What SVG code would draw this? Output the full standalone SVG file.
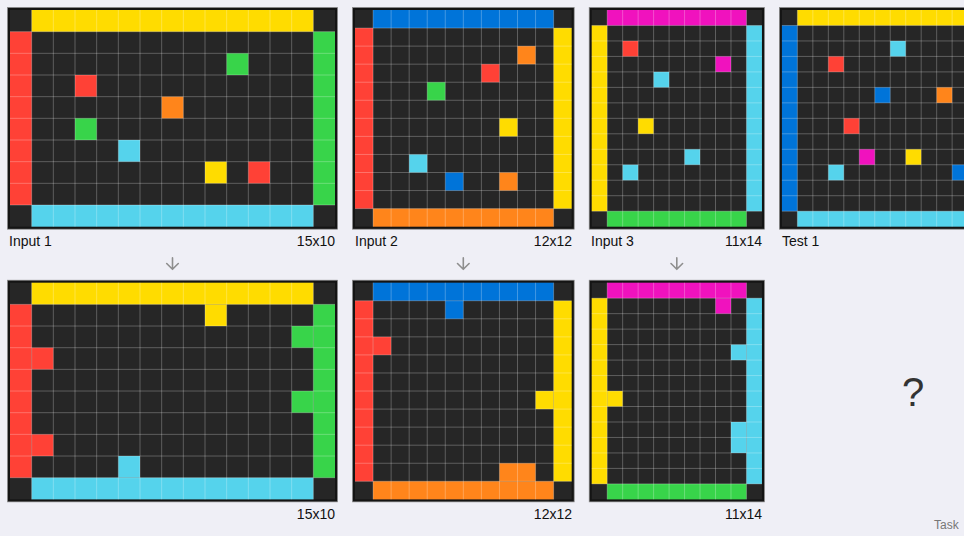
<svg xmlns="http://www.w3.org/2000/svg" xmlns:xlink="http://www.w3.org/1999/xlink" width="964" height="536" viewBox="0 0 964 536">
<style>
.bg{fill:#efeff6}
.frame{fill:#141414;stroke:#8a8a8a;stroke-width:0.7}
.k{fill:#262626}
.y{fill:#FFDC00}
.r{fill:#FF4136}
.g{fill:#38D44A}
.c{fill:#55D3EC}
.b{fill:#0074D9}
.o{fill:#FF851B}
.m{fill:#F012BE}
.gl{fill:none;stroke:#ffffff;stroke-opacity:0.26;stroke-width:1}
.lbl{font-family:"Liberation Sans",Arial,sans-serif;font-size:14px;fill:#111}
.dim{font-family:"Liberation Sans",Arial,sans-serif;font-size:14px;fill:#111;text-anchor:end}
.arr{fill:none;stroke:#8e8e8e;stroke-width:1.6;stroke-linecap:round;stroke-linejoin:round}
.q{font-family:"Liberation Sans",Arial,sans-serif;font-size:40px;fill:#333;text-anchor:middle}
.task{font-family:"Liberation Sans",Arial,sans-serif;font-size:12px;fill:#777}
</style>
<defs>
<path id="lines1" class="gl" d="M31.67 10V226.67M53.33 10V226.67M75 10V226.67M96.67 10V226.67M118.33 10V226.67M140 10V226.67M161.67 10V226.67M183.33 10V226.67M205 10V226.67M226.67 10V226.67M248.33 10V226.67M270 10V226.67M291.67 10V226.67M313.33 10V226.67M10 31.67H335M10 53.33H335M10 75H335M10 96.67H335M10 118.33H335M10 140H335M10 161.67H335M10 183.33H335M10 205H335"/>
<path id="lines2" class="gl" d="M373.06 10V226.67M391.11 10V226.67M409.17 10V226.67M427.22 10V226.67M445.28 10V226.67M463.33 10V226.67M481.39 10V226.67M499.44 10V226.67M517.5 10V226.67M535.56 10V226.67M553.61 10V226.67M355 28.06H571.67M355 46.11H571.67M355 64.17H571.67M355 82.22H571.67M355 100.28H571.67M355 118.33H571.67M355 136.39H571.67M355 154.44H571.67M355 172.5H571.67M355 190.56H571.67M355 208.61H571.67"/>
<path id="lines3" class="gl" d="M607.18 10V226.67M622.65 10V226.67M638.13 10V226.67M653.6 10V226.67M669.08 10V226.67M684.56 10V226.67M700.03 10V226.67M715.51 10V226.67M730.98 10V226.67M746.46 10V226.67M591.7 25.48H761.94M591.7 40.95H761.94M591.7 56.43H761.94M591.7 71.9H761.94M591.7 87.38H761.94M591.7 102.86H761.94M591.7 118.33H761.94M591.7 133.81H761.94M591.7 149.29H761.94M591.7 164.76H761.94M591.7 180.24H761.94M591.7 195.71H761.94M591.7 211.19H761.94"/>
<path id="arrow" class="arr" d="M0 -5.6V5.6M-5.8 0L0 5.8L5.8 0"/>
</defs>
<rect class="bg" x="0" y="0" width="964" height="536"/>

<g id="input1">
<rect class="frame" x="7.5" y="7.5" width="330" height="221.67"/>
<rect class="k" x="10" y="10" width="325" height="216.67"/>
<rect class="y" x="31.67" y="10" width="281.67" height="21.67"/>
<rect class="c" x="31.67" y="205" width="281.67" height="21.67"/>
<rect class="r" x="10" y="31.67" width="21.67" height="173.33"/>
<rect class="g" x="313.33" y="31.67" width="21.67" height="173.33"/>
<rect class="g" x="226.67" y="53.33" width="21.67" height="21.67"/>
<rect class="r" x="75" y="75" width="21.67" height="21.67"/>
<rect class="o" x="161.67" y="96.67" width="21.67" height="21.67"/>
<rect class="g" x="75" y="118.33" width="21.67" height="21.67"/>
<rect class="c" x="118.33" y="140" width="21.67" height="21.67"/>
<rect class="y" x="205" y="161.67" width="21.67" height="21.67"/>
<rect class="r" x="248.33" y="161.67" width="21.67" height="21.67"/>
<use xlink:href="#lines1"/>
<text class="lbl" x="9" y="246">Input 1</text>
<text class="dim" x="335" y="246">15x10</text>
</g>

<g id="input2">
<rect class="frame" x="352.5" y="7.5" width="221.67" height="221.67"/>
<rect class="k" x="355" y="10" width="216.67" height="216.67"/>
<rect class="b" x="373.06" y="10" width="180.56" height="18.06"/>
<rect class="o" x="373.06" y="208.61" width="180.56" height="18.06"/>
<rect class="r" x="355" y="28.06" width="18.06" height="180.56"/>
<rect class="y" x="553.61" y="28.06" width="18.06" height="180.56"/>
<rect class="o" x="517.5" y="46.11" width="18.06" height="18.06"/>
<rect class="r" x="481.39" y="64.17" width="18.06" height="18.06"/>
<rect class="g" x="427.22" y="82.22" width="18.06" height="18.06"/>
<rect class="y" x="499.44" y="118.33" width="18.06" height="18.06"/>
<rect class="c" x="409.17" y="154.44" width="18.06" height="18.06"/>
<rect class="b" x="445.28" y="172.5" width="18.06" height="18.06"/>
<rect class="o" x="499.44" y="172.5" width="18.06" height="18.06"/>
<use xlink:href="#lines2"/>
<text class="lbl" x="355" y="246">Input 2</text>
<text class="dim" x="572" y="246">12x12</text>
</g>

<g id="input3">
<rect class="frame" x="589.2" y="7.5" width="175.24" height="221.67"/>
<rect class="k" x="591.7" y="10" width="170.24" height="216.67"/>
<rect class="m" x="607.18" y="10" width="139.28" height="15.48"/>
<rect class="g" x="607.18" y="211.19" width="139.28" height="15.48"/>
<rect class="y" x="591.7" y="25.48" width="15.48" height="185.71"/>
<rect class="c" x="746.46" y="25.48" width="15.48" height="185.71"/>
<rect class="r" x="622.65" y="40.95" width="15.48" height="15.48"/>
<rect class="m" x="715.51" y="56.43" width="15.48" height="15.48"/>
<rect class="c" x="653.6" y="71.9" width="15.48" height="15.48"/>
<rect class="y" x="638.13" y="118.33" width="15.48" height="15.48"/>
<rect class="c" x="684.56" y="149.29" width="15.48" height="15.48"/>
<rect class="c" x="622.65" y="164.76" width="15.48" height="15.48"/>
<use xlink:href="#lines3"/>
<text class="lbl" x="591" y="246">Input 3</text>
<text class="dim" x="762" y="246">11x14</text>
</g>

<g id="test1">
<rect class="frame" x="779.4" y="7.5" width="221.66" height="221.67"/>
<rect class="k" x="781.9" y="10" width="216.66" height="216.67"/>
<rect class="y" x="797.38" y="10" width="185.71" height="15.48"/>
<rect class="c" x="797.38" y="211.19" width="185.71" height="15.48"/>
<rect class="b" x="781.9" y="25.48" width="15.48" height="185.71"/>
<rect class="c" x="890.23" y="40.95" width="15.48" height="15.48"/>
<rect class="r" x="828.33" y="56.43" width="15.48" height="15.48"/>
<rect class="b" x="874.76" y="87.38" width="15.48" height="15.48"/>
<rect class="o" x="936.66" y="87.38" width="15.48" height="15.48"/>
<rect class="r" x="843.8" y="118.33" width="15.48" height="15.48"/>
<rect class="m" x="859.28" y="149.29" width="15.48" height="15.48"/>
<rect class="y" x="905.71" y="149.29" width="15.48" height="15.48"/>
<rect class="c" x="828.33" y="164.76" width="15.48" height="15.48"/>
<rect class="b" x="952.14" y="164.76" width="15.48" height="15.48"/>
<path class="gl" d="M797.38 10V226.67M812.85 10V226.67M828.33 10V226.67M843.8 10V226.67M859.28 10V226.67M874.76 10V226.67M890.23 10V226.67M905.71 10V226.67M921.18 10V226.67M936.66 10V226.67M952.14 10V226.67M967.61 10V226.67M983.09 10V226.67M781.9 25.48H998.56M781.9 40.95H998.56M781.9 56.43H998.56M781.9 71.9H998.56M781.9 87.38H998.56M781.9 102.86H998.56M781.9 118.33H998.56M781.9 133.81H998.56M781.9 149.29H998.56M781.9 164.76H998.56M781.9 180.24H998.56M781.9 195.71H998.56M781.9 211.19H998.56"/>
<text class="lbl" x="782" y="246">Test 1</text>
</g>

<g id="output1">
<rect class="frame" x="7.5" y="280.2" width="330" height="221.67"/>
<rect class="k" x="10" y="282.7" width="325" height="216.67"/>
<rect class="y" x="31.67" y="282.7" width="281.67" height="21.67"/>
<rect class="c" x="31.67" y="477.7" width="281.67" height="21.67"/>
<rect class="r" x="10" y="304.37" width="21.67" height="173.33"/>
<rect class="g" x="313.33" y="304.37" width="21.67" height="173.33"/>
<rect class="y" x="205" y="304.37" width="21.67" height="21.67"/>
<rect class="g" x="291.67" y="326.03" width="21.67" height="21.67"/>
<rect class="r" x="31.67" y="347.7" width="21.67" height="21.67"/>
<rect class="g" x="291.67" y="391.03" width="21.67" height="21.67"/>
<rect class="r" x="31.67" y="434.37" width="21.67" height="21.67"/>
<rect class="c" x="118.33" y="456.03" width="21.67" height="21.67"/>
<use xlink:href="#lines1" y="272.7"/>
<text class="dim" x="335" y="518.5">15x10</text>
</g>

<g id="output2">
<rect class="frame" x="352.5" y="280.2" width="221.67" height="221.67"/>
<rect class="k" x="355" y="282.7" width="216.67" height="216.67"/>
<rect class="b" x="373.06" y="282.7" width="180.56" height="18.06"/>
<rect class="o" x="373.06" y="481.31" width="180.56" height="18.06"/>
<rect class="r" x="355" y="300.76" width="18.06" height="180.56"/>
<rect class="y" x="553.61" y="300.76" width="18.06" height="180.56"/>
<rect class="b" x="445.28" y="300.76" width="18.06" height="18.06"/>
<rect class="r" x="373.06" y="336.87" width="18.06" height="18.06"/>
<rect class="y" x="535.56" y="391.03" width="18.06" height="18.06"/>
<rect class="o" x="499.44" y="463.26" width="36.11" height="18.06"/>
<use xlink:href="#lines2" y="272.7"/>
<text class="dim" x="572" y="518.5">12x12</text>
</g>

<g id="output3">
<rect class="frame" x="589.2" y="280.2" width="175.24" height="221.67"/>
<rect class="k" x="591.7" y="282.7" width="170.24" height="216.67"/>
<rect class="m" x="607.18" y="282.7" width="139.28" height="15.48"/>
<rect class="g" x="607.18" y="483.89" width="139.28" height="15.48"/>
<rect class="y" x="591.7" y="298.18" width="15.48" height="185.71"/>
<rect class="c" x="746.46" y="298.18" width="15.48" height="185.71"/>
<rect class="m" x="715.51" y="298.18" width="15.48" height="15.48"/>
<rect class="c" x="730.98" y="344.6" width="15.48" height="15.48"/>
<rect class="y" x="607.18" y="391.03" width="15.48" height="15.48"/>
<rect class="c" x="730.98" y="421.99" width="15.48" height="30.95"/>
<use xlink:href="#lines3" y="272.7"/>
<text class="dim" x="762" y="518.5">11x14</text>
</g>

<g id="test-output">
<text class="q" x="913" y="405.5">?</text>
</g>

<g id="connectors">
<use xlink:href="#arrow" x="172.5" y="263.5"/>
<use xlink:href="#arrow" x="463.3" y="263.5"/>
<use xlink:href="#arrow" x="676.8" y="263.5"/>
</g>

<text class="task" x="934" y="529">Task</text>
</svg>
